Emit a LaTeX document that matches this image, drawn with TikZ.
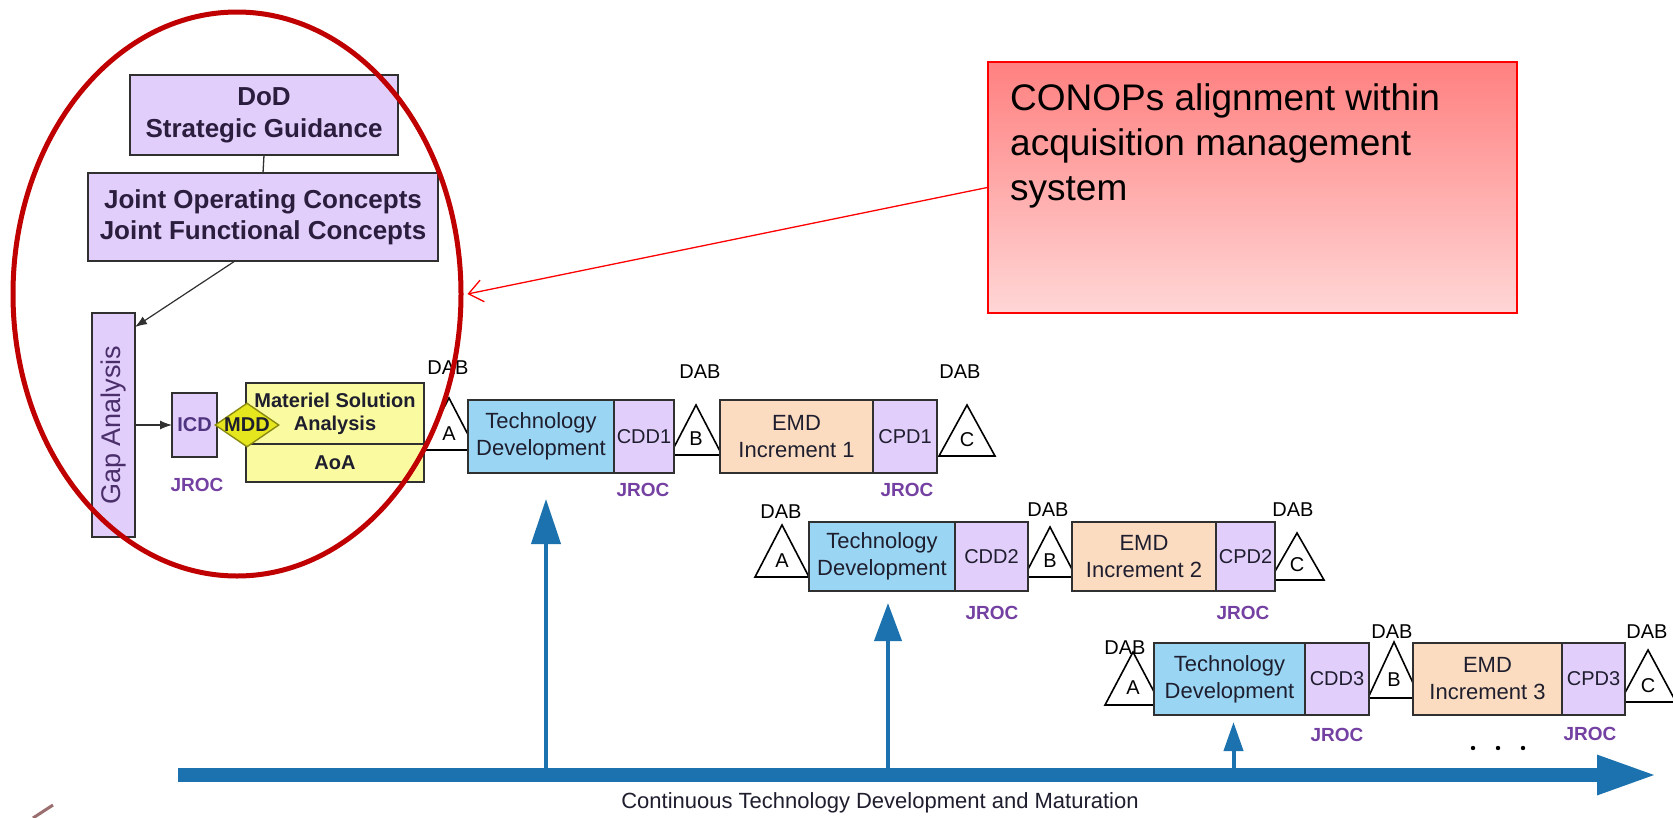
\documentclass[tikz,border=0pt]{standalone}
\usepackage{fontspec}
\setmainfont{Liberation Sans}
\usetikzlibrary{shapes.geometric,arrows.meta,calc}
\definecolor{boxline}{HTML}{303030}
\definecolor{txt}{HTML}{1E1E2E}
\definecolor{dodtxt}{HTML}{2B1D3D}
\definecolor{gaptxt}{HTML}{4A2F6A}
\definecolor{icdtxt}{HTML}{4F3480}
\definecolor{jrocc}{HTML}{7441A3}
\definecolor{lav}{HTML}{E2CEFB}
\definecolor{tdblue}{HTML}{9AD6F4}
\definecolor{peach}{HTML}{FBDCC1}
\definecolor{msay}{HTML}{FAFAA0}
\definecolor{mddfill}{HTML}{E6E61E}
\definecolor{mddline}{HTML}{8A8A10}
\definecolor{barblue}{HTML}{1B72AE}
\definecolor{ringred}{HTML}{C00000}
\definecolor{callTop}{HTML}{FF8080}
\definecolor{callBot}{HTML}{FFD6D6}
\definecolor{logobrown}{HTML}{9A6E6E}
\newcommand\fsz[2]{\fontsize{#1}{#2}\selectfont}
\newcommand\dabtri[6]{%
  \draw[tri] (#2-#5,#4) -- (#2,#3) -- (#2+#5,#4) -- cycle;
  \node[lbl] (#1) at (#2,{#4-(#4-#3)*0.32}) {#6};
}
\begin{document}
\begin{tikzpicture}[x=1pt,y=-1pt,
  box/.style={draw=boxline, line width=1.6pt, inner sep=0pt, outer sep=0pt, align=center, text=txt, font=\fsz{22}{27}},
  lavbox/.style={box, fill=lav},
  tdbox/.style={box, fill=tdblue},
  emdbox/.style={box, fill=peach},
  ylbox/.style={box, fill=msay},
  lbl/.style={inner sep=0pt, font=\fsz{20}{24}, text=black},
  jroc/.style={inner sep=0pt, font=\bfseries\fsz{19}{22}, text=jrocc},
  conn/.style={draw=boxline, line width=1.2pt, -{Latex[length=12pt,width=9pt]}},
  tri/.style={draw=black, fill=white, line width=1.6pt, line join=miter},
  barrow/.style={draw=barblue, line width=4pt},
]
\fill[white] (0,0) rectangle (1673,817);
\useasboundingbox (0,0) rectangle (1673,817);

% left column
\node[lavbox, minimum width=268pt, minimum height=80pt, font=\bfseries\fsz{26}{32}, text=dodtxt] (dod) at (264,115) {DoD\\Strategic Guidance};
\node[lavbox, minimum width=350pt, minimum height=88pt, font=\bfseries\fsz{26}{31}, text=dodtxt] (joint) at (263,217) {Joint Operating Concepts\\Joint Functional Concepts};
\draw[draw=boxline, line width=1.3pt] (dod.south) -- (joint.north);

\node[lavbox, minimum width=43pt, minimum height=224pt] (gap) at (113.5,425) {};
\node[rotate=90, inner sep=0pt, font=\fsz{27}{30}, text=gaptxt] (gaptext) at (gap.center) {Gap Analysis};
\draw[conn] ([xshift=-28pt]joint.south) -- ([yshift=-14pt]gap.north east);

\node[lavbox, minimum width=45pt, minimum height=64pt, font=\bfseries\fsz{20}{24}, text=icdtxt] (icd) at (194.5,425) {ICD};
\draw[conn] (gap.east) -- (icd.west);
\node[jroc] (jroc0) at (197,485) {JROC};

% triangles (behind boxes)
\dabtri{triA1}{449}{398}{450}{27}{A}
\dabtri{triB1}{696}{405}{455}{26}{B}
\dabtri{triC1}{967}{405}{456}{28}{C}
\dabtri{triA2}{782}{525}{577}{27}{A}
\dabtri{triB2}{1050}{527}{577}{26}{B}
\dabtri{triC2}{1297}{533}{580}{27}{C}
\dabtri{triA3}{1133}{652}{705}{28}{A}
\dabtri{triB3}{1394}{642}{698}{26}{B}
\dabtri{triC3}{1648}{650}{702}{28}{C}

\node[ylbox, minimum width=178pt, minimum height=61pt, font=\bfseries\fsz{20}{23}] (msa) at (335,413.5) {Materiel Solution\\Analysis};
\node[ylbox, minimum width=178pt, minimum height=38pt, font=\bfseries\fsz{20}{23}] (aoa) at (335,463) {AoA};
\node[diamond, draw=mddline, fill=mddfill, line width=1.4pt, minimum width=64pt, minimum height=44pt, inner sep=0pt] (mdd) at (247,425) {};
\node[inner sep=0pt, font=\bfseries\fsz{20}{22}, text=txt] (mddtext) at (mdd) {MDD};

% row 1
\node[tdbox, minimum width=146pt, minimum height=73pt] (td1) at (541,436.5) {Technology\\Development};
\node[lavbox, minimum width=60pt, minimum height=73pt, font=\fsz{20}{24}] (cdd1) at (644,436.5) {CDD1};
\node[emdbox, minimum width=153pt, minimum height=73pt] (emd1) at (796.5,436.5) {EMD\\Increment 1};
\node[lavbox, minimum width=64pt, minimum height=73pt, font=\fsz{20}{24}] (cpd1) at (905,436.5) {CPD1};
% row 2
\node[tdbox, minimum width=146pt, minimum height=69pt] (td2) at (882,556.5) {Technology\\Development};
\node[lavbox, minimum width=73pt, minimum height=69pt, font=\fsz{20}{24}] (cdd2) at (991.5,556.5) {CDD2};
\node[emdbox, minimum width=144pt, minimum height=69pt] (emd2) at (1144,556.5) {EMD\\Increment 2};
\node[lavbox, minimum width=59pt, minimum height=69pt, font=\fsz{20}{24}] (cpd2) at (1245.5,556.5) {CPD2};
% row 3
\node[tdbox, minimum width=151pt, minimum height=72pt] (td3) at (1229.5,679) {Technology\\Development};
\node[lavbox, minimum width=64pt, minimum height=72pt, font=\fsz{20}{24}] (cdd3) at (1337,679) {CDD3};
\node[emdbox, minimum width=149pt, minimum height=72pt] (emd3) at (1487.5,679) {EMD\\Increment 3};
\node[lavbox, minimum width=63pt, minimum height=72pt, font=\fsz{20}{24}] (cpd3) at (1593.5,679) {CPD3};

% DAB labels
\node[lbl] (dabA1) at (448,368) {DAB};
\node[lbl] (dabB1) at (700,372) {DAB};
\node[lbl] (dabC1) at (960,372) {DAB};
\node[lbl] (dabA2) at (781,512) {DAB};
\node[lbl] (dabB2) at (1048,510) {DAB};
\node[lbl] (dabC2) at (1293,510) {DAB};
\node[lbl] (dabA3) at (1125,648) {DAB};
\node[lbl] (dabB3) at (1392,632) {DAB};
\node[lbl] (dabC3) at (1647,632) {DAB};

% JROC labels
\node[jroc] (jroc1) at (643,490) {JROC};
\node[jroc] (jroc2) at (907,490) {JROC};
\node[jroc] (jroc3) at (992,613) {JROC};
\node[jroc] (jroc4) at (1243,613) {JROC};
\node[jroc] (jroc5) at (1337,735) {JROC};
\node[jroc] (jroc6) at (1590,734) {JROC};

% dots
\fill (1473,748) circle (2.2pt) (1498,748) circle (2.2pt) (1523,748) circle (2.2pt);

% timeline
\coordinate (barL) at (178,775);
\coordinate (barR) at (1658,775);
\coordinate (t1) at ([xshift=5pt,yshift=-26pt]td1.south);
\coordinate (t2) at ([xshift=6pt,yshift=-12pt]td2.south);
\coordinate (t3) at ([xshift=4pt,yshift=-7pt]td3.south);
\draw[barrow, -{Triangle[length=45pt,width=29pt]}] (t1 |- barL) -- (t1);
\draw[barrow, -{Triangle[length=38pt,width=27pt]}] (t2 |- barL) -- (t2);
\draw[barrow, -{Triangle[length=29pt,width=19pt]}] (t3 |- barL) -- (t3);
\draw[draw=barblue, line width=14pt, -{Triangle[length=61pt,width=36pt]}] (barL) -- (barR);
\node[inner sep=0pt, font=\fsz{22}{24}, text=txt] (ctd) at (880,803) {Continuous Technology Development and Maturation};

% logo fragment
\draw[draw=logobrown, line width=3pt] (33,818) -- (53,805);

% callout
\node[draw=red, line width=1.5pt, top color=callTop, bottom color=callBot, minimum width=529pt, minimum height=251pt, inner sep=0pt] (callout) at (1252.5,187.5) {};
\node[anchor=north west, inner sep=0pt, align=left, font=\fsz{37}{45}] (calltext) at (1010,83) {CONOPs alignment within\\acquisition management\\system};

% red ring and callout arrow
\node[ellipse, draw=ringred, line width=5pt, minimum width=448pt, minimum height=564pt, inner sep=0pt] (ring) at (237,294) {};
\draw[draw=red, line width=1.3pt, -{Straight Barb[length=14pt,width=22pt]}] (callout.west) -- ([xshift=4pt]ring.east);
\end{tikzpicture}
\end{document}
